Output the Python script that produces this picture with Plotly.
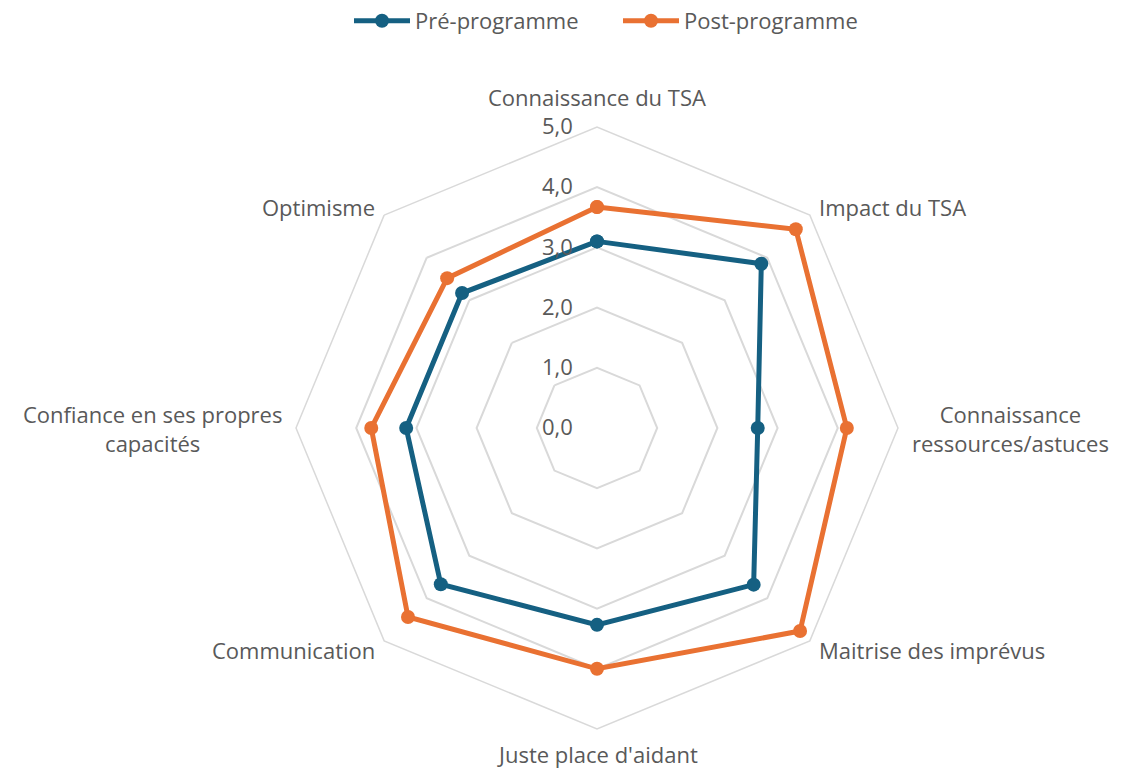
import math
import plotly.graph_objects as go

# Axes du questionnaire (sens horaire en partant du haut)
categories = [
    "Connaissance du TSA",
    "Impact du TSA",
    "Connaissance ressources/astuces",
    "Maitrise des imprévus",
    "Juste place d'aidant",
    "Communication",
    "Confiance en ses propres capacités",
    "Optimisme",
]
category_text = [
    "Connaissance du TSA",
    "Impact du TSA",
    "Connaissance<br>ressources/astuces",
    "Maitrise des imprévus",
    "Juste place d'aidant",
    "Communication",
    "Confiance en ses propres<br>capacités",
    "Optimisme",
]
pre_programme = [3.10, 3.86, 2.67, 3.68, 3.27, 3.67, 3.17, 3.17]
post_programme = [3.67, 4.67, 4.15, 4.77, 4.00, 4.44, 3.75, 3.52]
radial_ticks = [0, 1, 2, 3, 4, 5]

W, H = 1123, 770
cx, cy, R = 597, 428, 301
FONT = "Open Sans"
TXT = "#595959"
GRID = "#D9D9D9"
FS = 22


def closed(vals):
    return list(vals) + [vals[0]]


fig = go.Figure()
for name, vals, color in [
    ("Pré-programme", pre_programme, "#156082"),
    ("Post-programme", post_programme, "#E97132"),
]:
    fig.add_trace(go.Scatterpolar(
        r=closed(vals),
        theta=closed(categories),
        name=name,
        mode="lines+markers",
        line=dict(color=color, width=5),
        marker=dict(color=color, size=14),
    ))

# Libellés des axes placés autour de l'octogone extérieur
annotations = []
n = len(categories)
for i, label in enumerate(category_text):
    ang = math.radians(90 - 360 * i / n)
    c, s = math.cos(ang), math.sin(ang)
    px = cx + R * c
    py = cy - R * s
    if abs(c) < 1e-6:
        xa = "center"
        px_t, py_t = px, (py - 30 if s > 0 else py + 25)
    elif abs(s) < 1e-6:
        xa = "left" if c > 0 else "right"
        px_t, py_t = px + 13 * (1 if c > 0 else -1), py
    else:
        xa = "left" if c > 0 else "right"
        px_t = px + 8 * (1 if c > 0 else -1)
        py_t = py - 8 if s > 0 else py + 9
    annotations.append(dict(
        text=label, x=px_t / W, y=1 - py_t / H, xref="paper", yref="paper",
        xanchor=xa, yanchor="middle", showarrow=False, align="center",
        borderpad=0,
        font=dict(family=FONT, size=FS, color=TXT),
    ))

fig.update_layout(
    width=W, height=H,
    margin=dict(l=0, r=0, t=0, b=0),
    paper_bgcolor="white",
    plot_bgcolor="white",
    separators=", ",
    font=dict(family=FONT, size=FS, color=TXT),
    annotations=annotations,
    legend=dict(
        orientation="h", x=349 / W, xanchor="left", y=1.0, yanchor="top",
        font=dict(size=FS, color=TXT), itemwidth=56, entrywidth=198,
    ),
    polar=dict(
        domain=dict(x=[(cx - R) / W, (cx + R) / W],
                    y=[(H - cy - R) / H, (H - cy + R) / H]),
        gridshape="linear",
        bgcolor="white",
        radialaxis=dict(
            range=[0, 5], tickvals=radial_ticks, tickformat=".1f",
            angle=90, tickangle=90, side="counterclockwise",
            showline=False, gridcolor=GRID, gridwidth=1.5,
            ticks="outside", ticklen=16, tickcolor="rgba(0,0,0,0)",
            tickfont=dict(size=FS, color=TXT),
        ),
        angularaxis=dict(
            direction="clockwise", rotation=90,
            showgrid=False, showline=True, linecolor=GRID, linewidth=1.5,
            showticklabels=False, ticks="",
        ),
    ),
)

fig.write_html("out.html")
